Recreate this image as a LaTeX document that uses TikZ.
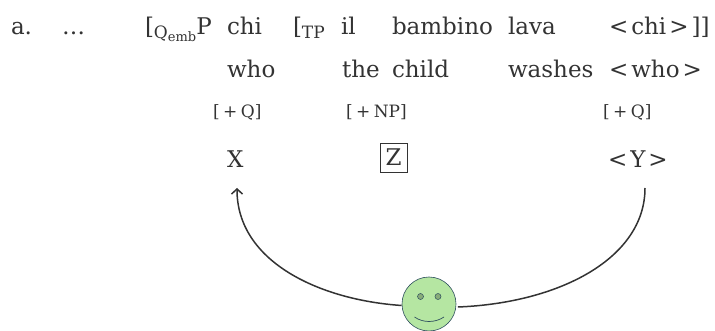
\documentclass[tikz,border=0pt]{standalone}
\usepackage{fontspec}
\setmainfont{DejaVu Serif}
\usetikzlibrary{arrows.meta}
\definecolor{ink}{HTML}{333333}
\definecolor{face}{HTML}{B5E6A2}
\definecolor{faceline}{HTML}{2F4F5F}
\tikzset{
 x=1pt,y=-1pt,
 word/.style={anchor=base west,inner sep=0pt,outer sep=0pt,text=ink,font=\fontsize{23}{24}\selectfont},
 feat/.style={anchor=base west,inner sep=0pt,outer sep=0pt,text=ink,font=\fontsize{17}{18}\selectfont},
 link/.style={draw=ink,line width=1.5pt,-{Straight Barb[length=5pt,width=11pt]}},
}
\begin{document}
\begin{tikzpicture}
\useasboundingbox (0,0) rectangle (715,331);
\node[word] (a) at (11,35) {a.};
\node[word] (dots) at (62,35) {…};
\node[word] (q) at (145,35) {[\raisebox{-4pt}{\fontsize{17}{18}\selectfont Q\raisebox{-2.5pt}{\fontsize{13}{14}\selectfont emb}}P};
\node[word] (chi) at (227,35) {chi};
\node[word] (tp) at (293,35) {[\raisebox{-4pt}{\fontsize{17}{18}\selectfont TP}};
\node[word] (il) at (341,35) {il};
\node[word] (bambino) at (392,35) {bambino};
\node[word] (lava) at (508,35) {lava};
\node[word] (chit) at (609,35) {<\kern3pt chi\kern3pt >\kern3pt ]]};
\node[word] (who) at (227,78) {who};
\node[word] (the) at (342,78) {the};
\node[word] (child) at (392,78) {child};
\node[word] (washes) at (508,78) {washes};
\node[word] (whot) at (609,78) {<\kern3pt who\kern3pt >};
\node[feat] (f1) at (213,117.5) {[\kern3.5pt +\kern3.5pt Q]};
\node[feat] (f2) at (346,117.5) {[\kern3.5pt +\kern3.5pt NP]};
\node[feat] (f3) at (603,117.5) {[\kern3.5pt +\kern3.5pt Q]};
\node[word] (x) at (227,168) {X};
\node[word,anchor=center,draw=ink,line width=.7pt,minimum width=27pt,minimum height=29pt] (z) at (393.5,157.5) {\raisebox{-1pt}{Z}};
\node[word] (y) at (608,168) {<\kern3pt Y\kern3pt >};
\node[circle,draw=faceline,fill=face,line width=.6pt,minimum size=54pt,inner sep=0pt] (s) at (429,304) {};
\fill[face!75!black,draw=faceline,line width=.5pt] (420.5,296.5) circle (3pt) (438,296.5) circle (3pt);
\draw[faceline,line width=.7pt] (414.5,317) .. controls (423,323) and (435,323) .. (444,317);
\coordinate (r) at (645,188);
\coordinate (l) at (237,188);
\draw[link,arrows={-}] (r) .. controls (645,258) and (560,303) .. ([xshift=1.5pt]s.east |- 0,307);
\draw[link] (s.west |- 0,305.5) .. controls (320,300) and (237,262) .. (l);
\end{tikzpicture}
\end{document}
